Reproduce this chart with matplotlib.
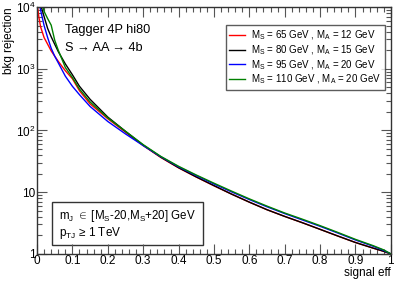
import numpy as np
import matplotlib
matplotlib.use("Agg")
import matplotlib.pyplot as plt
from matplotlib.patches import Rectangle
from matplotlib.ticker import MultipleLocator, LogLocator, FixedLocator, FixedFormatter

plt.rcParams['font.family'] = ['Liberation Sans', 'DejaVu Sans']
plt.rcParams['mathtext.fontset'] = 'custom'
plt.rcParams['mathtext.rm'] = 'Liberation Sans'
plt.rcParams['mathtext.it'] = 'Liberation Sans:italic'

# signal efficiency grid
eff = [0.0, 0.005, 0.01, 0.02, 0.03, 0.04, 0.05, 0.06, 0.08, 0.10, 0.12, 0.15, 0.20,
       0.25, 0.30, 0.35, 0.40, 0.45, 0.50, 0.55, 0.60, 0.65, 0.70, 0.75, 0.80,
       0.85, 0.90, 0.95, 0.98, 1.0]

# background rejection per mass point
rej_65 = [12000, 7000, 4800, 3200, 2500, 1950, 1600, 1320, 930, 690, 440, 270, 155,
          94, 57, 36.5, 24.8, 17.6, 12.7, 9.3, 6.9, 5.2, 4.05, 3.2, 2.5,
          1.95, 1.53, 1.24, 1.1, 1.0]
rej_80 = [20000, 15000, 11000, 7000, 4500, 3300, 2500, 1900, 1200, 800, 520, 320, 165,
          97, 58, 37, 25, 17.7, 12.8, 9.3, 6.9, 5.2, 4.05, 3.2, 2.5,
          1.95, 1.53, 1.24, 1.1, 1.0]
rej_95 = [20000, 13000, 9000, 5000, 3200, 2150, 1600, 1250, 760, 520, 380, 245, 140,
          88, 57, 37.5, 25.8, 18.6, 13.6, 10.1, 7.6, 5.8, 4.5, 3.55, 2.8,
          2.18, 1.68, 1.33, 1.14, 1.0]
rej_110 = [30000, 20000, 14000, 8500, 6500, 5100, 2900, 2000, 1050, 720, 470, 290, 160,
           97, 59, 38, 26.3, 19.0, 14.0, 10.4, 7.8, 5.95, 4.6, 3.65, 2.87,
           2.23, 1.72, 1.36, 1.16, 1.0]

labels = [r"M$_\mathrm{S}$ = 65 GeV , M$_\mathrm{A}$ = 12 GeV",
          r"M$_\mathrm{S}$ = 80 GeV , M$_\mathrm{A}$ = 15 GeV",
          r"M$_\mathrm{S}$ = 95 GeV , M$_\mathrm{A}$ = 20 GeV",
          r"M$_\mathrm{S}$ = 110 GeV , M$_\mathrm{A}$ = 20 GeV"]
colors = ['#ff0000', '#000000', '#0000ff', '#008000']

fig = plt.figure(figsize=(3.94, 2.84), dpi=100)
ax = fig.add_axes([0.094, 0.106, 0.898, 0.869])

for rej, lab, c in zip([rej_65, rej_80, rej_95, rej_110], labels, colors):
    ax.plot(eff, rej, color=c, lw=1.0, label=lab)

ax.set_yscale('log')
ax.set_xlim(0, 1)
ax.set_ylim(1, 1e4)

ax.xaxis.set_minor_locator(MultipleLocator(0.02))
ax.set_xticks(np.arange(0, 1.01, 0.1))
ax.set_xticklabels(['0', '0.1', '0.2', '0.3', '0.4', '0.5', '0.6', '0.7', '0.8', '0.9', '1'])
ax.yaxis.set_major_locator(FixedLocator([1, 10, 100, 1000, 10000]))
ax.yaxis.set_major_formatter(FixedFormatter(['1', '10', r'10$^2$', r'10$^3$', r'10$^4$']))
ax.yaxis.set_minor_locator(LogLocator(base=10, subs=np.arange(2, 10)))
ax.yaxis.set_minor_formatter(FixedFormatter([]))

ax.tick_params(which='both', direction='in', top=True, right=True, labelsize=8.5,
               color='#555555', width=0.8)
ax.tick_params(which='major', length=7, pad=1)
ax.tick_params(which='minor', length=3.5)
for s in ax.spines.values():
    s.set_color('#333333')
    s.set_linewidth(1.0)

ax.set_xlabel('signal eff', fontsize=8.5, loc='right', labelpad=0)
ax.set_ylabel('bkg rejection', fontsize=8.5, loc='top', labelpad=1)

ax.text(0.079, 0.907, 'Tagger 4P hi80', transform=ax.transAxes, fontsize=9.2, va='center')
ax.text(0.079, 0.834, 'S \u2192 AA \u2192 4b', transform=ax.transAxes, fontsize=9.2, va='center')

leg = ax.legend(loc='upper right', bbox_to_anchor=(0.983, 0.927), fontsize=7,
                frameon=True, fancybox=False, edgecolor='#333333',
                handlelength=1.6, handletextpad=0.7, borderpad=0.35,
                labelspacing=0.12, borderaxespad=0)
leg.get_frame().set_linewidth(1.0)

ax.add_patch(Rectangle((0.042, 0.036), 0.427, 0.174, transform=ax.transAxes,
                       fill=False, edgecolor='#333333', lw=1.0))
ax.text(0.063, 0.152, r'm$_\mathrm{J}$ $\in$ [M$_\mathrm{S}$-20,M$_\mathrm{S}$+20] GeV',
        transform=ax.transAxes, fontsize=8.3, va='center')
ax.text(0.063, 0.085, 'p$_\\mathrm{TJ}$ \u2265 1 TeV',
        transform=ax.transAxes, fontsize=8.5, va='center')

fig.savefig('out.png', dpi=100)
